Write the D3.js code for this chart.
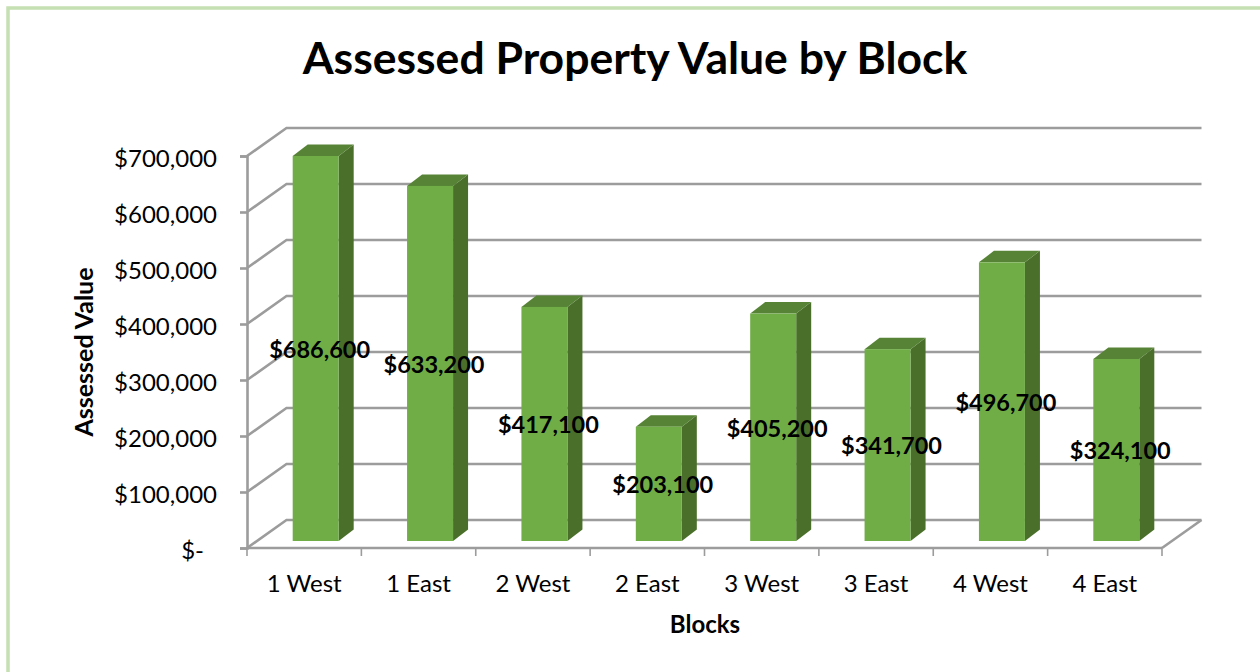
<!DOCTYPE html>
<html><head><meta charset="utf-8">
<script src="https://cdn.jsdelivr.net/npm/d3@7"></script>
<style>html,body{margin:0;padding:0;background:#fff}svg{display:block}text{font-family:Lato,"Noto Sans",sans-serif;fill:#000}</style>
</head><body><svg id="c" width="1260" height="672"></svg>
<script>
const categories=["1 West","1 East","2 West","2 East","3 West","3 East","4 West","4 East"];
const values=[686600,633200,417100,203100,405200,341700,496700,324100];
const valueLabels=["$686,600","$633,200","$417,100","$203,100","$405,200","$341,700","$496,700","$324,100"];
const tickValues=[0,100000,200000,300000,400000,500000,600000,700000];
const tickLabels=["$-","$100,000","$200,000","$300,000","$400,000","$500,000","$600,000","$700,000"];
const titleText="Assessed Property Value by Block",xTitle="Blocks",yTitle="Assessed Value";

const svg=d3.select("#c");
const grid="#9c9c9c";
const wallDx=39.5,wallDy=-28,barDx=15,barDy=-11.5,barW=46,barShift=11.5,barLift=-7.5;
const x=d3.scaleBand().domain(categories).range([247,1162]).paddingInner(0).paddingOuter(0);
const y=d3.scaleLinear().domain([0,700000]).range([548,156]);

// outer frame
svg.append("path").attr("d","M8 672V8H1260").attr("fill","none").attr("stroke","#c5e0b3").attr("stroke-width",3.5);

// walls and gridlines
const g=svg.append("g").attr("fill","none").attr("stroke",grid).attr("stroke-width",2.6);
tickValues.forEach(t=>{
  g.append("path").attr("d",`M247 ${y(t)}L${247+wallDx} ${y(t)+wallDy}H${1162+wallDx}`);
});
g.append("path").attr("d",`M1162 548L${1162+wallDx} ${548+wallDy}`);

// axes
const ya=d3.axisLeft(y).tickValues(tickValues).tickFormat((d,i)=>tickLabels[i]).tickSize(7).tickPadding(23);
const xa=d3.axisBottom(x).tickFormat(d=>d).tickSizeOuter(0).tickSize(0).tickPadding(27);
const gy=svg.append("g").attr("transform","translate(247,0)").call(ya);
const gx=svg.append("g").attr("transform","translate(0,548)").call(xa);
[gy,gx].forEach(a=>{a.selectAll("path,line").attr("stroke",grid).attr("stroke-width",2.6);a.selectAll("text").attr("font-size",24).attr("fill","#000");});
gy.selectAll(".tick text").attr("dy","0.42em").filter((d,i)=>i===0).attr("dx",-13);
gx.select(".domain").attr("d","M247 0H1162");
gx.selectAll(".tick text").attr("dy","0.71em");
const edges=x.domain().map(d=>x(d)).concat([1162]);
svg.append("g").selectAll("line").data(edges).join("line")
  .attr("x1",d=>d).attr("x2",d=>d).attr("y1",548).attr("y2",556).attr("stroke",grid).attr("stroke-width",1.6);

// bars
const bars=svg.append("g").selectAll("g").data(values).join("g");
const bx=(i)=>x(categories[i])+x.bandwidth()/2+barShift-barW/2;
const by=v=>y(v)+barLift, b0=y(0)+barLift+0.5;
bars.append("path").attr("fill","#4a6f2a").attr("d",(v,i)=>{const X=bx(i)+barW;return `M${X} ${by(v)}l${barDx} ${barDy}V${b0+barDy}l${-barDx} ${-barDy}Z`;});
bars.append("path").attr("fill","#568335").attr("d",(v,i)=>{const X=bx(i);return `M${X} ${by(v)}l${barDx} ${barDy}h${barW}l${-barDx} ${-barDy}Z`;});
bars.append("rect").attr("fill","#70ad47").attr("x",(v,i)=>bx(i)).attr("y",v=>by(v)).attr("width",barW).attr("height",v=>b0-by(v));
bars.append("text").attr("x",(v,i)=>bx(i)+barW/2+4).attr("y",v=>(by(v)+b0)/2+1).attr("dy","0.35em")
  .attr("text-anchor","middle").attr("font-size",23.5).attr("font-weight",700).text((v,i)=>valueLabels[i]);

// titles
svg.append("text").attr("x",635).attr("y",74).attr("text-anchor","middle").attr("font-size",44.5).attr("font-weight",700).text(titleText);
svg.append("text").attr("x",705).attr("y",633).attr("text-anchor","middle").attr("font-size",24).attr("font-weight",700).text(xTitle);
svg.append("text").attr("transform","translate(93,352) rotate(-90)").attr("text-anchor","middle").attr("font-size",25).attr("font-weight",700).text(yTitle);
</script></body></html>
